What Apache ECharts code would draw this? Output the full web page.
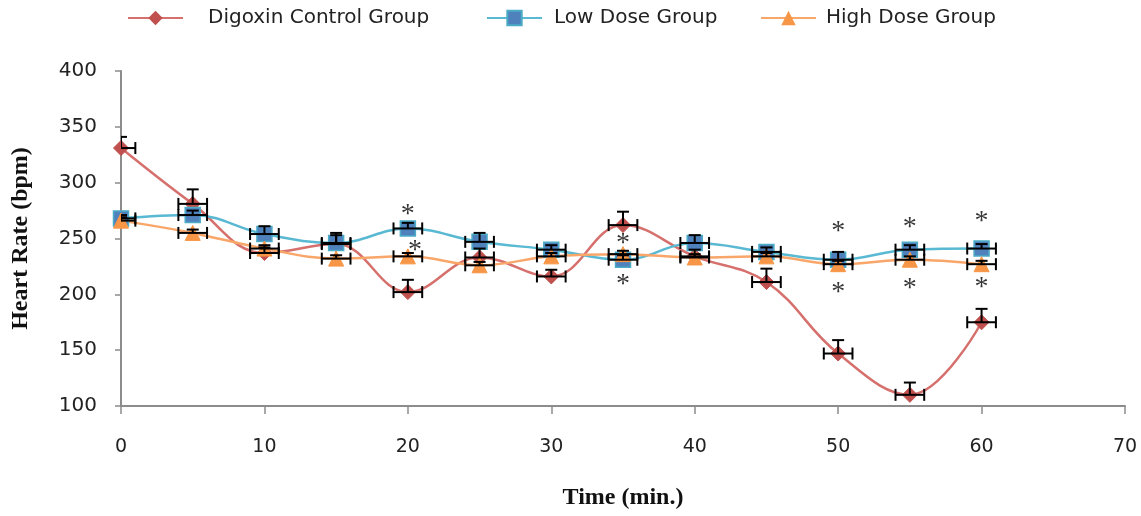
<!DOCTYPE html>
<html>
<head>
<meta charset="utf-8">
<script src="https://cdn.jsdelivr.net/npm/echarts@6/dist/echarts.min.js"></script>
<style>html,body{margin:0;padding:0;background:#fff}#c{width:1141px;height:516px}</style>
</head>
<body>
<div id="c"></div>
<script>
// ---- data ----
const times = [0, 5, 10, 15, 20, 25, 30, 35, 40, 45, 50, 55, 60];
const digoxin = [331, 281, 237, 245, 202, 233, 216, 262, 234, 211, 147, 110, 175];
const lowDose = [268, 271, 254, 246, 259, 247, 240, 231, 246, 238, 231, 240, 241];
const highDose = [266, 255, 241, 232, 234, 226, 234, 236, 233, 234, 227, 231, 227];
const digoxinErr = [10, 13, 5, 8, 11, 8, 6, 12, 6, 12, 12, 11, 12];
const lowDoseErr = [3, 4, 7, 9, 5, 8, 4, 4, 7, 4, 7, 4, 4];
const highDoseErr = [3, 3, 3, 3, 3, 3, 3, 3, 3, 3, 3, 3, 3];
const timeErr = 1;
const seriesNames = ['Digoxin Control Group', 'Low Dose Group', 'High Dose Group'];
const asterisks = [[20, 274.6], [20.5, 242.4], [35, 248.7], [35, 212], [50, 259.4], [50, 204.8], [55, 263], [55, 209], [60, 268.4], [60, 210]];
const xTitle = 'Time (min.)';
const yTitle = 'Heart Rate (bpm)';

const pairs = arr => times.map((t, i) => [t, arr[i]]);
const errData = (arr, err) => times.map((t, i) => [t, arr[i], err[i], timeErr]);

function renderErr(params, api) {
  const x = api.value(0), y = api.value(1), ey = api.value(2), ex = api.value(3);
  const c = api.coord([x, y]);
  const l = api.coord([x - ex, y]);
  const r = api.coord([x + ex, y]);
  const t = api.coord([x, y + ey]);
  const cap = 6;
  const st = { stroke: '#000', lineWidth: 2 };
  const ln = (x1, y1, x2, y2) => ({ type: 'line', shape: { x1, y1, x2, y2 }, style: st });
  return {
    type: 'group',
    children: [
      ln(l[0], c[1], r[0], c[1]),
      ln(l[0], c[1] - cap, l[0], c[1] + cap),
      ln(r[0], c[1] - cap, r[0], c[1] + cap),
      ln(c[0], c[1], c[0], t[1]),
      ln(c[0] - cap, t[1], c[0] + cap, t[1])
    ]
  };
}

const chart = echarts.init(document.getElementById('c'), null, { renderer: 'canvas' });
const axisColor = '#8c8c8c';
const legendLefts = [127, 486, 760];
const legendTextPads = [20, 7, 5];
const option = {
  animation: false,
  backgroundColor: '#fff',
  grid: { left: 121, right: 16, top: 71, bottom: 110, containLabel: false, outerBoundsMode: 'none' },
  legend: seriesNames.map((n, i) => ({
    data: [n],
    left: legendLefts[i], top: 8, padding: 0,
    itemWidth: 55, itemHeight: 18,
    textStyle: { fontFamily: 'DejaVu Sans', fontSize: 20, color: '#222', padding: [0, 0, 0, legendTextPads[i]] }
  })),
  xAxis: {
    type: 'value', min: 0, max: 70, interval: 10,
    name: xTitle, nameLocation: 'middle', nameGap: 80,
    nameTextStyle: { fontFamily: 'Liberation Serif', fontWeight: 'bold', fontSize: 24, color: '#111' },
    axisLine: { lineStyle: { color: axisColor, width: 2 } },
    axisTick: { show: true, inside: false, length: 8, lineStyle: { color: axisColor, width: 1.5 } },
    axisLabel: { margin: 32, fontFamily: 'DejaVu Sans', fontSize: 19, color: '#222' },
    splitLine: { show: false }
  },
  yAxis: {
    type: 'value', min: 100, max: 400, interval: 50,
    name: yTitle, nameLocation: 'middle', nameGap: 88, nameRotate: 90,
    nameTextStyle: { fontFamily: 'Liberation Serif', fontWeight: 'bold', fontSize: 24, color: '#111' },
    axisLine: { show: true, lineStyle: { color: axisColor, width: 2 } },
    axisTick: { show: true, inside: false, length: 6, lineStyle: { color: axisColor, width: 1.5 } },
    axisLabel: { margin: 24, fontFamily: 'DejaVu Sans', fontSize: 20, color: '#222' },
    splitLine: { show: false }
  },
  series: [
    {
      name: seriesNames[0], type: 'line', data: pairs(digoxin), smooth: 0.4,
      symbol: 'diamond', symbolSize: 15,
      lineStyle: { color: '#d5706d', width: 2.5 },
      itemStyle: { color: '#c0504d', borderColor: '#c0504d' }, z: 2
    },
    {
      name: seriesNames[1], type: 'line', data: pairs(lowDose), smooth: 0.4,
      symbol: 'rect', symbolSize: 15,
      lineStyle: { color: '#5ab9d2', width: 2.5 },
      itemStyle: { color: '#4f81bd', borderColor: '#4bacc6', borderWidth: 1.5 }, z: 2
    },
    {
      name: seriesNames[2], type: 'line', data: pairs(highDose), smooth: 0.4,
      symbol: 'triangle', symbolSize: 15,
      lineStyle: { color: '#f9a66a', width: 2.5 },
      itemStyle: { color: '#f79646', borderColor: '#f79646' }, z: 2
    },
    { type: 'custom', renderItem: renderErr, data: errData(digoxin, digoxinErr), encode: { x: 0, y: 1 }, clip: true, z: 3, silent: true },
    { type: 'custom', renderItem: renderErr, data: errData(lowDose, lowDoseErr), encode: { x: 0, y: 1 }, clip: true, z: 3, silent: true },
    { type: 'custom', renderItem: renderErr, data: errData(highDose, highDoseErr), encode: { x: 0, y: 1 }, clip: true, z: 3, silent: true },
    {
      type: 'scatter', data: asterisks, symbolSize: 1, itemStyle: { color: 'rgba(0,0,0,0)' }, z: 4, silent: true,
      label: { show: true, position: 'inside', formatter: '*', offset: [0, 4],
        fontFamily: 'Liberation Serif', fontSize: 28, color: '#000' }
    }
  ]
};
chart.setOption(option);
</script>
</body>
</html>
